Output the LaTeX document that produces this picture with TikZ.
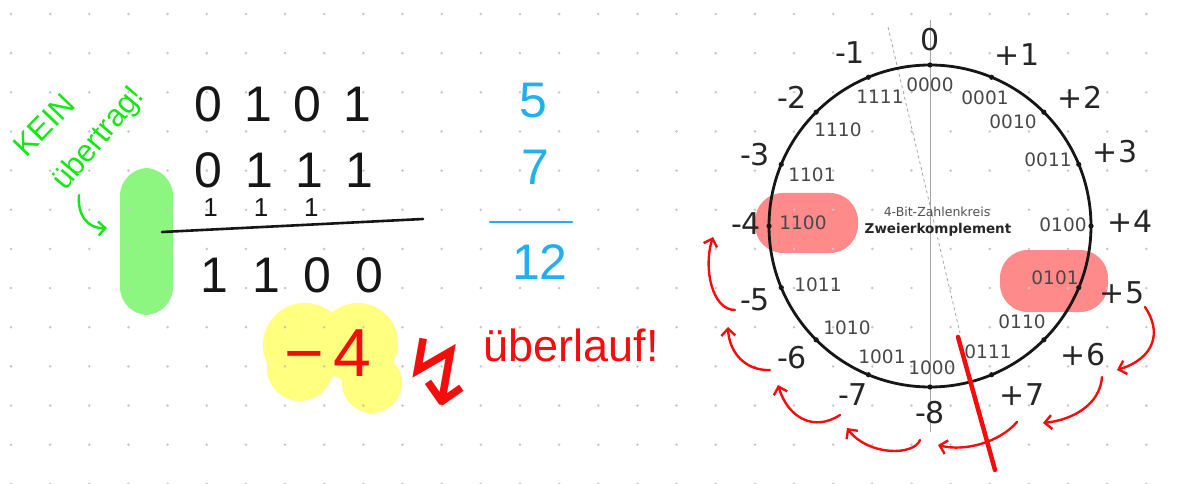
\documentclass[tikz,border=0pt]{standalone}
\usepackage{fontspec}
\setmainfont{DejaVu Sans}
\newfontfamily\handfont{Liberation Sans}
\usetikzlibrary{arrows.meta}
\definecolor{dotgray}{RGB}{198,198,198}
\definecolor{markred}{RGB}{255,138,138}
\definecolor{markgreen}{RGB}{140,246,128}
\definecolor{markyellow}{RGB}{255,255,128}
\definecolor{inkred}{RGB}{245,12,12}
\definecolor{inkgreen}{RGB}{20,232,20}
\definecolor{inkblue}{RGB}{32,176,240}
\definecolor{inkblack}{RGB}{22,22,22}
\definecolor{labgray}{RGB}{38,38,38}
\tikzset{
  hand/.style={inner sep=0pt,font=\handfont\fontsize{50}{50}\selectfont},
  carry/.style={inner sep=0pt,font=\handfont\fontsize{26}{26}\selectfont,text=inkblack},
  greennote/.style={inner sep=0pt,font=\handfont\fontsize{31}{31}\selectfont,text=inkgreen},
  zahl/.style={inner sep=0pt,font=\fontsize{30}{30}\selectfont,text=labgray},
  bits/.style={inner sep=0pt,font=\fontsize{18.5}{18.5}\selectfont,text=labgray!85},
  blob/.style={rounded corners=28pt,inner sep=0pt},
  ink/.style={line width=2.6pt,line cap=round},
  hop/.style={-{Straight Barb[length=7pt,width=14pt]},line width=2.4pt,line cap=round,inkred},
}
\begin{document}
\begin{tikzpicture}[x=1pt,y=-1pt]
  \path[use as bounding box] (0,0) rectangle (1179,484);

  \node[blob,fill=markgreen,minimum width=53pt,minimum height=147pt] (gruen) at (146.5,241.5) {};
  \node[blob,fill=markred,minimum width=103pt,minimum height=60pt] (rot1100) at (806.5,223) {};
  \node[blob,fill=markred,minimum width=108pt,minimum height=62pt] (rot0101) at (1054,281) {};
  \fill[markyellow] (305,345) circle[radius=42] (300,368) circle[radius=33]
    (358,343) circle[radius=40] (372,383) circle[radius=30];

  \foreach \i in {0,...,29}
    \foreach \j in {0,...,12}
      \fill[dotgray] ({11+39.15*\i},{14+39.15*\j}) circle[radius=1.4];

  \node[greennote,rotate=46] (kein) at (44,125) {KEIN};
  \node[greennote,rotate=50] (uebertrag) at (99,139) {übertrag!};
  \coordinate (gstart) at (79,195);
  \coordinate (gend) at (107,228);
  \draw[hop,inkgreen] (gstart) .. controls (77,215) and (88,229) .. (gend);

  \node[hand,text=inkblack,anchor=base] (zeile1) at (283,122) {0\hskip22pt1\hskip22pt0\hskip22pt1};
  \node[hand,text=inkblack,anchor=base] (zeile2) at (284,188) {0\hskip23pt1\hskip22pt1\hskip22pt1};
  \node[carry,anchor=base] (uebertraege) at (261,217) {1\hskip36pt1\hskip36pt1};
  \coordinate (strichA) at (162,232);
  \coordinate (strichB) at (423,219);
  \draw[ink,inkblack] (strichA) -- (strichB);
  \node[hand,text=inkblack,anchor=base] (summe) at (292,292) {1\hskip24pt1\hskip24pt0\hskip24pt0};

  \node[hand,text=inkblue] (fuenf) at (533,101) {5};
  \node[hand,text=inkblue] (sieben) at (535,167) {7};
  \coordinate (blauA) at (490,222);
  \coordinate (blauB) at (572,222);
  \draw[ink,inkblue] (blauA) -- (blauB);
  \node[hand,text=inkblue] (zwoelf) at (540,262) {12};

  \node[inner sep=0pt,font=\handfont\fontsize{68}{68}\selectfont,text=inkred] (minusvier) at (328,353) {−\kern10pt4};
  \node[inner sep=0pt,font=\fontsize{92}{92}\selectfont,text=inkred] (blitz) at (438,372) {↯};
  \node[inner sep=0pt,font=\handfont\fontsize{45}{45}\selectfont,text=inkred] (ueberlauf) at (571,345) {überlauf!};

  \coordinate (mitte) at (930,226);
  \draw[gray!70,line width=0.8pt] (930,20) -- (930,432);
  \draw[gray!70,line width=0.8pt,dashed] (888,27) -- (960,333);
  \draw[inkblack,line width=2.8pt] (mitte) circle[radius=161];
  \foreach \a in {0,22.5,...,337.5}
    \fill[inkblack] (mitte) ++(\a:161) circle[radius=2.6];

  \foreach \n/\x/\y/\t in {n0/930/40/0, p1/1017/55/+1, p2/1080/97/+2, p3/1115/152/+3,
      p4/1130/222/+4, p5/1122/293/+5, p6/1083/355/+6, p7/1022/395/+7, m8/930/413/-8,
      m7/853/395/-7, m6/792/358/-6, m5/755/300/-5, m4/746/224/-4, m3/755/155/-3,
      m2/792/97/-2, m1/850/53/-1}
    \node[zahl] (\n) at (\x,\y) {\t};

  \foreach \n/\x/\y/\t in {b0/930/85/0000, b1/985/98/0001, b2/1013/122/0010, b3/1048/160/0011,
      b4/1063/225/0100, b5/1055/278/0101, b6/1022/322/0110, b7/988/352/0111,
      b8/932/368/1000, b9/882/357/1001, b10/847/328/1010, b11/818/285/1011,
      b12/803/223/1100, b13/812/175/1101, b14/838/130/1110, b15/880/97/1111}
    \node[bits] (\n) at (\x,\y) {\t};

  \node[inner sep=0pt,font=\fontsize{12.5}{12.5}\selectfont,text=labgray!80] (titel) at (937,212) {4-Bit-Zahlenkreis};
  \node[inner sep=0pt,font=\bfseries\fontsize{13.5}{13.5}\selectfont,text=labgray] (untertitel) at (938,230) {Zweierkomplement};

  \coordinate (schnittA) at (958,337);
  \coordinate (schnittB) at (995,470);
  \draw[inkred,line width=4.5pt,line cap=round] (schnittA) -- (schnittB);

  \coordinate (h5) at (1145,307);  \coordinate (h6) at (1117,370);
  \coordinate (h6b) at (1102,377); \coordinate (h7) at (1043,423);
  \coordinate (h7b) at (1017,422); \coordinate (h8) at (938,445);
  \coordinate (h8b) at (920,440);  \coordinate (h9) at (847,428);
  \coordinate (h9b) at (840,415);  \coordinate (h10) at (778,385);
  \coordinate (h10b) at (770,370); \coordinate (h11) at (728,327);
  \coordinate (h11b) at (735,310); \coordinate (h12) at (713,237);
  \draw[hop] (h5) .. controls (1162,332) and (1155,358) .. (h6);
  \draw[hop] (h6b) .. controls (1100,405) and (1072,420) .. (h7);
  \draw[hop] (h7b) .. controls (1000,442) and (965,452) .. (h8);
  \draw[hop] (h8b) .. controls (914,456) and (868,456) .. (h9);
  \draw[hop] (h9b) .. controls (814,432) and (788,418) .. (h10);
  \draw[hop] (h10b) .. controls (745,371) and (729,352) .. (h11);
  \draw[hop] (h11b) .. controls (712,310) and (703,268) .. (h12);
\end{tikzpicture}
\end{document}
